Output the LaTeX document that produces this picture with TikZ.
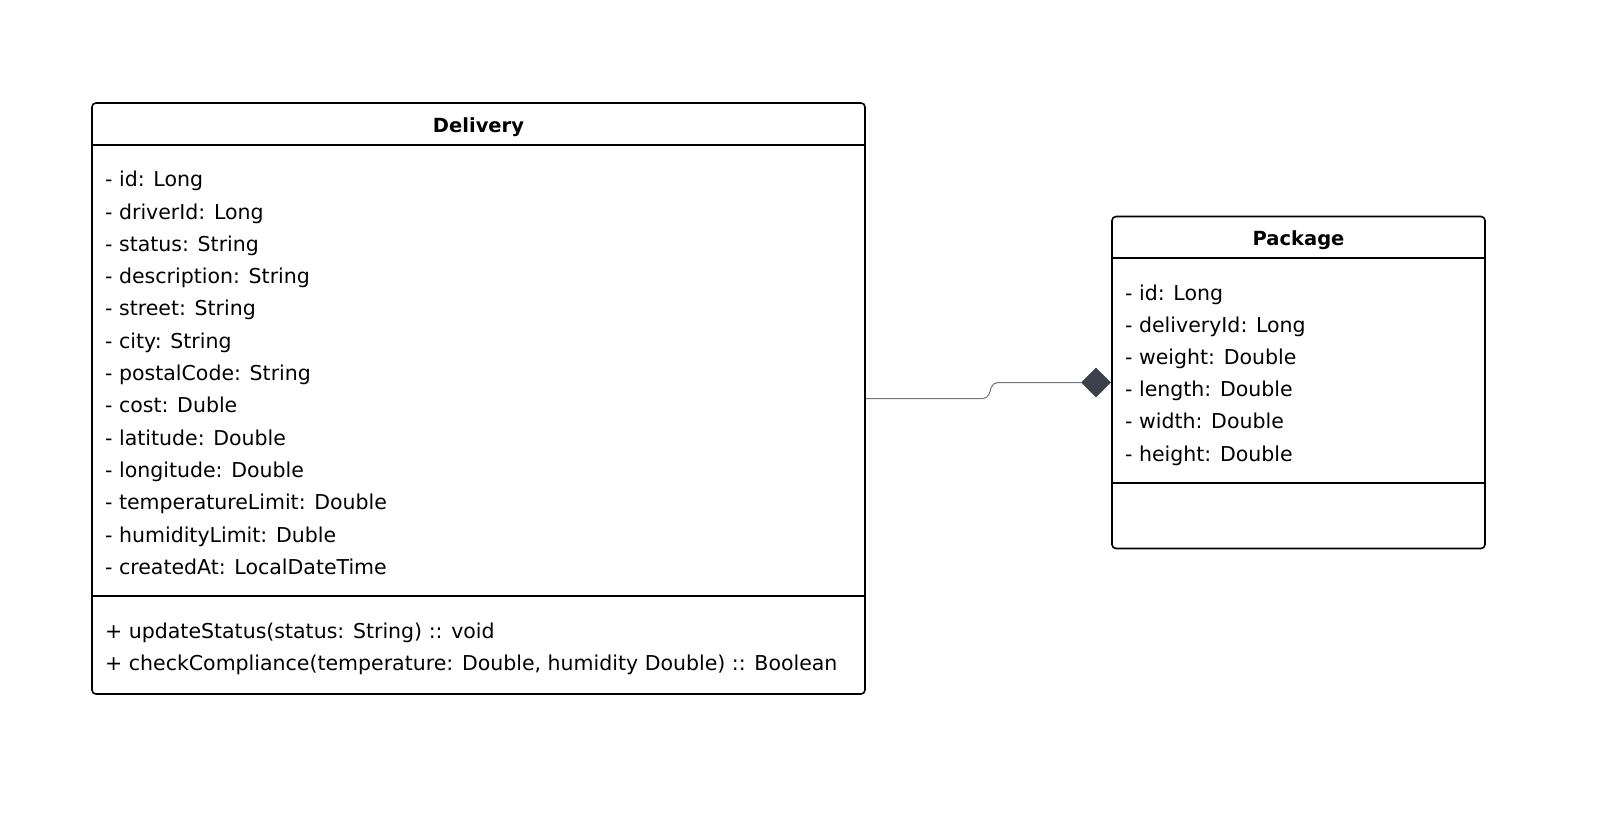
\documentclass[tikz,border=0pt]{standalone}
\usepackage{fontspec}
\setmainfont{DejaVu Sans}
\usepackage{tikz}
\usetikzlibrary{positioning,shapes,calc}
\definecolor{linkgray}{HTML}{70747B}
\definecolor{diamondgray}{HTML}{3B414B}
\tikzstyle{classbox}=[%
      rectangle, draw=black, line width=1.6pt, rounded corners=4pt, fill=none,
      inner sep=0pt
]
\tikzstyle{classtitle}=[%
      font=\fontsize{19.5}{22}\selectfont\bfseries, inner sep=0pt, anchor=base
]
\tikzstyle{member}=[%
      font=\fontsize{20.5}{23}\selectfont, inner sep=0pt, anchor=base west
]
\tikzstyle{compline}=[draw=black, line width=1.6pt]
\tikzstyle{composition}=[%
      diamond, fill=diamondgray, draw=none, minimum width=30pt, minimum height=30pt, inner sep=0pt
]
\tikzstyle{link}=[draw=linkgray, line width=1pt, rounded corners=5pt]

\begin{document}
\begin{tikzpicture}[x=1pt, y=-1pt]
    \useasboundingbox (0,0) rectangle (1617,823);

    \node[classbox, minimum width=773pt, minimum height=591pt] (delivery) at (478.5,398.5) {};
    \node[classtitle] (deliverytitle) at (478.5,132) {Delivery};
    \draw[compline] ($(delivery.north west)+(0,42.5)$) -- ($(delivery.north east)+(0,42.5)$);
    \draw[compline] ($(delivery.north west)+(0,494)$) -- ($(delivery.north east)+(0,494)$);
    \foreach \attr [count=\i] in {- id: Long, - driverId: Long, - status: String,
        - description: String, - street: String, - city: String, - postalCode: String,
        - cost: Duble, - latitude: Double, - longitude: Double,
        - temperatureLimit: Double, - humidityLimit: Duble, - createdAt: LocalDateTime}
      \node[member] (dattr\i) at (105,{186.7+32.3*(\i-1)}) {\attr};
    \node[member] (dmethod1) at (105,638.4) {+ updateStatus(status: String) :: void};
    \node[member] (dmethod2) at (105,670.6) {+ checkCompliance(temperature: Double, humidity Double) :: Boolean};

    \node[classbox, minimum width=373pt, minimum height=332pt] (package) at (1298.5,382.5) {};
    \node[classtitle] (packagetitle) at (1298.5,245.6) {Package};
    \draw[compline] ($(package.north west)+(0,42)$) -- ($(package.north east)+(0,42)$);
    \draw[compline] ($(package.north west)+(0,267.4)$) -- ($(package.north east)+(0,267.4)$);
    \foreach \attr [count=\i] in {- id: Long, - deliveryId: Long, - weight: Double,
        - length: Double, - width: Double, - height: Double}
      \node[member] (pattr\i) at (1125,{300+32.2*(\i-1)}) {\attr};

    \node[composition, left=0pt of package.west] (pkgdiamond) {};
    \draw[link] (delivery.east) -- ++(122,0) -- ($(pkgdiamond.west)+(-88,0)$) -- (pkgdiamond.west);
\end{tikzpicture}
\end{document}
